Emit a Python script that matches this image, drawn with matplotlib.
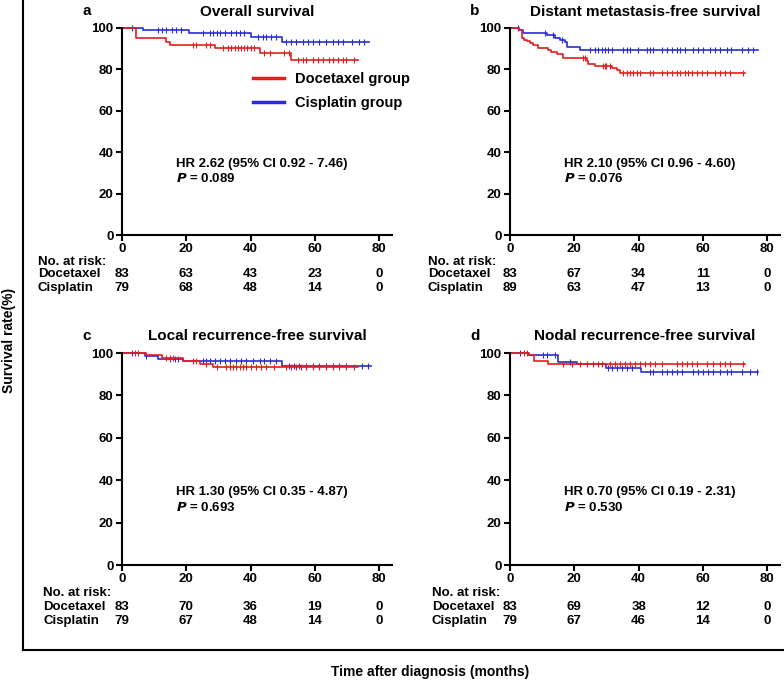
import numpy as np
import matplotlib
matplotlib.use("Agg")
import matplotlib.pyplot as plt
from matplotlib.lines import Line2D

plt.rcParams['font.family'] = ['Liberation Sans', 'DejaVu Sans']
plt.rcParams['font.weight'] = 'bold'

RED = '#e41e1e'
BLUE = '#2b2bd8'

panel_letters = ['a', 'b', 'c', 'd']
titles = ['Overall survival', 'Distant metastasis-free survival',
          'Local recurrence-free survival', 'Nodal recurrence-free survival']
hr_text = ['HR 2.62 (95% CI 0.92 - 7.46)', 'HR 2.10 (95% CI 0.96 - 4.60)',
           'HR 1.30 (95% CI 0.35 - 4.87)', 'HR 0.70 (95% CI 0.19 - 2.31)']
p_text = ['0.089', '0.076', '0.693', '0.530']

risk_times = [0, 20, 40, 60, 80]
risk_doc = [[83, 63, 43, 23, 0], [83, 67, 34, 11, 0], [83, 70, 36, 19, 0], [83, 69, 38, 12, 0]]
risk_cis = [[79, 68, 48, 14, 0], [89, 63, 47, 13, 0], [79, 67, 48, 14, 0], [79, 67, 46, 14, 0]]

# step curves: event times, survival after each time, last follow-up
doc_t = [[0, 4.5, 13.8, 15.0, 28.8, 42.8, 52.6],
         [0, 2.9, 3.6, 4.5, 5.2, 6.2, 7.3, 8.8, 11.9, 12.9, 14.7, 16.6, 23.8, 24.4, 26.4, 31.6, 33.2, 34.2],
         [0, 7.5, 12.3, 19.0, 24.2, 28.3],
         [0, 6.0, 7.6, 11.9]]
doc_s = [[100, 95.2, 93.3, 92.0, 90.4, 88.0, 84.3],
         [100, 98.9, 95.2, 94.4, 93.6, 92.8, 92.0, 90.4, 89.3, 88.3, 87.2, 85.6, 84.0, 82.4, 81.6, 80.8, 79.7, 78.4],
         [100, 99.2, 97.6, 96.0, 94.9, 93.3],
         [100, 99.2, 96.1, 95.0]]
doc_end = [73.3, 73.1, 73.3, 73.1]

cis_t = [[0, 6.6, 20.9, 40.2, 49.8],
         [0, 2.9, 4.1, 11.4, 14.0, 15.5, 17.1, 17.8, 21.8],
         [0, 7.0, 11.3, 19.0, 49.8],
         [0, 5.7, 14.8, 20.7, 29.9, 40.9]]
cis_s = [[100, 98.9, 97.6, 95.7, 93.3],
         [100, 98.9, 97.6, 96.8, 95.2, 94.4, 93.1, 90.9, 89.3],
         [100, 98.8, 97.3, 96.2, 94.1],
         [100, 99.0, 95.8, 94.7, 93.1, 91.0]]
cis_end = [76.9, 77.2, 77.4, 77.2]

doc_cens = [
    [22.1, 23.1, 26.2, 27.3, 31.4, 33.0, 34.0, 35.0, 36.0, 37.0, 38.0, 39.0, 40.0, 41.2, 44.3, 45.9,
     50.5, 52.1, 54.7, 56.2, 57.3, 59.3, 60.9, 62.4, 64.5, 65.5, 67.1, 68.6, 69.6, 72.2],
    [22.8, 23.3, 29.0, 29.5, 30.0, 31.0, 35.3, 36.3, 37.3, 38.4, 39.4, 40.4, 43.5, 44.6, 47.2, 48.7,
     50.3, 51.8, 52.9, 54.4, 55.5, 56.5, 58.1, 59.6, 61.2, 63.8, 65.3, 66.9, 68.4, 72.6],
    [4.0, 5.1, 13.8, 14.9, 15.9, 22.1, 23.1, 26.2, 29.4, 32.5, 33.5, 34.5, 35.6, 36.6, 37.6, 38.6,
     40.2, 41.7, 43.3, 44.8, 47.4, 51.0, 52.6, 54.1, 55.7, 57.3, 59.3, 61.4, 63.4, 65.5, 67.6, 69.6, 72.2],
    [4.2, 5.2, 16.6, 19.2, 21.8, 23.8, 25.9, 27.5, 28.5, 31.0, 32.7, 34.2, 35.8, 37.3, 38.9, 40.4,
     42.0, 43.5, 45.1, 47.2, 51.8, 53.4, 55.0, 56.5, 58.1, 61.2, 63.2, 65.3, 66.9, 68.4, 72.6]]
cis_cens = [
    [3.0, 11.3, 12.3, 13.8, 15.4, 16.9, 18.5, 25.2, 27.3, 28.3, 29.4, 30.4, 31.9, 34.0, 35.5, 36.6,
     38.1, 42.3, 43.8, 44.8, 46.4, 47.9, 51.0, 52.6, 54.1, 56.2, 57.8, 59.3, 61.4, 63.4, 65.5, 67.1,
     68.6, 71.7, 73.8, 75.3],
    [2.6, 10.9, 13.5, 16.1, 24.9, 26.4, 27.5, 28.5, 29.5, 30.5, 31.6, 35.3, 36.3, 37.3, 39.9, 42.5,
     43.5, 44.6, 47.2, 48.7, 50.3, 51.8, 52.9, 54.4, 57.0, 58.6, 60.1, 62.2, 63.8, 65.3, 67.4, 68.9,
     72.1, 74.1, 75.7],
    [3.0, 7.6, 14.9, 16.4, 17.5, 25.2, 26.2, 27.3, 28.8, 30.4, 31.9, 33.5, 35.5, 37.1, 38.6, 40.7,
     42.8, 44.3, 45.9, 47.9, 52.1, 53.6, 55.2, 57.3, 59.3, 61.4, 63.4, 65.5, 67.6, 69.6, 74.8, 76.4],
    [3.1, 10.4, 11.4, 14.0, 18.6, 30.6, 31.6, 33.2, 34.7, 36.3, 37.9, 43.5, 44.6, 47.2, 48.7, 50.3,
     51.8, 53.4, 57.0, 58.6, 60.1, 61.7, 63.2, 65.3, 67.4, 68.9, 72.1, 74.7, 76.8]]

W, H = 784, 682
fig = plt.figure(figsize=(W / 100, H / 100), dpi=100)

# axes boxes in pixels: left, y of 0, y of 100
boxes = [(122, 235, 28), (510, 235, 28), (122, 565, 353), (510, 565, 353)]
risk_label_x = [38, 428, 43, 432]


def draw_curve(ax, t, s, end, cens, color):
    t = np.array(t + [end])
    s = np.array(s + [s[-1]])
    ax.step(t, s, where='post', color=color, lw=1.2, clip_on=False)
    cens = np.array(cens)
    idx = np.searchsorted(t, cens, side='right') - 1
    ax.plot(cens, s[idx], ls='none', marker='|', ms=4, mew=0.8, color=color, clip_on=False)


for i in range(4):
    left, y0, y100 = boxes[i]
    ax = fig.add_axes([left / W, 1 - y0 / H, 270 / W, (y0 - y100) / H])
    draw_curve(ax, cis_t[i], cis_s[i], cis_end[i], cis_cens[i], BLUE)
    draw_curve(ax, doc_t[i], doc_s[i], doc_end[i], doc_cens[i], RED)
    ax.set_xlim(0, 84)
    ax.set_ylim(0, 100)
    ax.set_xticks(risk_times)
    ax.set_yticks([0, 20, 40, 60, 80, 100])
    for sp in ['top', 'right']:
        ax.spines[sp].set_visible(False)
    for sp in ['left', 'bottom']:
        ax.spines[sp].set_linewidth(1.5)
    ax.tick_params(direction='out', length=4, width=1.5, labelsize=9.5, pad=2)
    for lab in ax.get_xticklabels() + ax.get_yticklabels():
        lab.set_fontweight('bold')
    ax.set_title(titles[i], fontsize=11, fontweight='bold', pad=9)
    ax.text(-0.13, 1.08, panel_letters[i], transform=ax.transAxes, fontsize=11,
            fontweight='bold', ha='center', va='center')
    ax.text(0.2, 0.33, hr_text[i], transform=ax.transAxes, fontsize=9.5, fontweight='bold')
    ax.text(0.2, 0.255, r'$\bfit{P}$ = ' + p_text[i], transform=ax.transAxes,
            fontsize=9.5, fontweight='bold')

    hpx = y0 - y100
    def ypos(py):
        return (y0 - py) / hpx
    if i < 2:
        rows = [262, 274, 288]
    else:
        rows = [593, 607, 621]
    lx = risk_label_x[i]
    fig.text(lx / W, 1 - rows[0] / H, 'No. at risk:', fontsize=9.5, fontweight='bold', va='center')
    fig.text(lx / W, 1 - rows[1] / H, 'Docetaxel', fontsize=9.5, fontweight='bold', va='center')
    fig.text(lx / W, 1 - rows[2] / H, 'Cisplatin', fontsize=9.5, fontweight='bold', va='center')
    tr = ax.get_xaxis_transform()
    for t, nd, nc in zip(risk_times, risk_doc[i], risk_cis[i]):
        ax.text(t, ypos(rows[1]), str(nd), transform=tr, ha='center', va='center',
                fontsize=9.5, fontweight='bold', clip_on=False)
        ax.text(t, ypos(rows[2]), str(nc), transform=tr, ha='center', va='center',
                fontsize=9.5, fontweight='bold', clip_on=False)

    if i == 0:
        handles = [Line2D([], [], color=RED, lw=2.5), Line2D([], [], color=BLUE, lw=2.5)]
        fig.legend(handles, ['Docetaxel group', 'Cisplatin group'], loc='upper left',
                   bbox_to_anchor=(253 / W, 1 - 72 / H), bbox_transform=fig.transFigure,
                   frameon=False, fontsize=10.5, handlelength=2.1, handletextpad=0.8,
                   labelspacing=0.7, borderpad=0, borderaxespad=0,
                   prop={'weight': 'bold', 'size': 10.5})

# outer frame
fig.add_artist(Line2D([23 / W, 23 / W], [1, 1 - 650 / H], color='black', lw=1.5,
                      transform=fig.transFigure))
fig.add_artist(Line2D([23 / W, 1], [1 - 650 / H, 1 - 650 / H], color='black', lw=1.5,
                      transform=fig.transFigure))
fig.text(9 / W, 1 - 340 / H, 'Survival rate(%)', rotation=90, ha='center', va='center',
         fontsize=10, fontweight='bold')
fig.text(430 / W, 1 - 672 / H, 'Time after diagnosis (months)', ha='center', va='center',
         fontsize=10, fontweight='bold')

fig.savefig('out.png', dpi=100)
